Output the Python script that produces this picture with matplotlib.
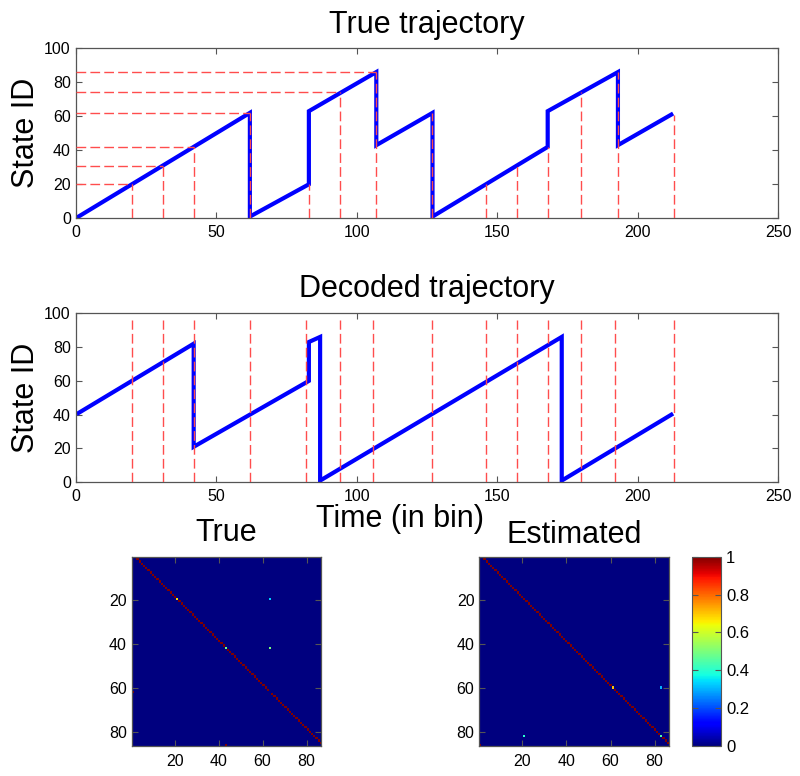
import numpy as np
import matplotlib
matplotlib.use("Agg")
import matplotlib.pyplot as plt

plt.rcParams['font.family'] = ['Liberation Sans', 'DejaVu Sans']

# true trajectory (vertices of the piecewise path)
true_t = [1, 62, 62, 83, 83, 107, 107, 127, 127, 168, 168, 193, 193, 212]
true_s = [1, 62, 1, 20, 63, 86, 43, 62, 1, 42, 63, 86, 43, 61]

# decoded trajectory
dec_t = [1, 42, 42, 83, 83, 87, 87, 173, 173, 212]
dec_s = [41, 82, 21, 60, 83, 86, 1, 86, 1, 40]

# landmark times / states (red dashed guides)
true_mark_t = [20, 31, 42, 62, 83, 94, 107, 127, 146, 157, 168, 180, 193, 213]
true_mark_s = [20, 31, 42, 62, 20, 74, 86, 62, 20, 31, 42, 74, 86, 61]
hline_s = [20, 31, 42, 62, 74, 86]
hline_end = [20, 31, 42, 62, 94, 107]
dec_mark_t = [20, 31, 42, 62, 82, 94, 106, 127, 146, 157, 168, 180, 192, 213]

# transition matrices: chain i -> i+1, with these rows replaced
n_states = 86
true_rows = [20, 20, 42, 42, 62, 86]
true_cols = [21, 63, 43, 63, 1, 43]
true_vals = [0.67, 0.33, 0.5, 0.5, 1.0, 1.0]
est_rows = [60, 60, 82, 82, 86]
est_cols = [61, 83, 21, 83, 1]
est_vals = [0.7, 0.3, 0.4, 0.45, 1.0]

cbar_ticks = [0, 0.2, 0.4, 0.6, 0.8, 1]
cbar_labels = ['0', '0.2', '0.4', '0.6', '0.8', '1']

BLUE = '#0000ff'
RED = '#ff4d4d'
GRAY = '#555555'
DASH = (0, (7, 3))


def build_matrix(rows, cols, vals):
    m = np.zeros((n_states, n_states))
    for i in range(n_states - 1):
        m[i, i + 1] = 1.0
    for r in set(rows):
        m[r - 1, :] = 0.0
    for r, c, v in zip(rows, cols, vals):
        m[r - 1, c - 1] = v
    return m


def style_axes(ax, size=11.5):
    for sp in ax.spines.values():
        sp.set_color(GRAY)
        sp.set_linewidth(0.9)
    ax.tick_params(direction='in', top=True, right=True, length=4,
                   color=GRAY, labelsize=size, labelcolor='black')


fig = plt.figure(figsize=(8, 7.76), dpi=100)

# top: true trajectory
ax1 = fig.add_axes([0.0946, 0.7187, 0.878, 0.2191])
ax1.plot(true_t, true_s, color=BLUE, lw=3, solid_joinstyle='miter', zorder=2)
ax1.vlines(true_mark_t, 0, true_mark_s, colors=RED, linestyles=DASH, lw=1, zorder=3)
ax1.hlines(hline_s, 0, hline_end, colors=RED, linestyles=DASH, lw=1, zorder=3)
ax1.set_xlim(0, 250)
ax1.set_ylim(0, 100)
ax1.set_xticks(range(0, 251, 50))
ax1.set_yticks(range(0, 101, 20))
ax1.set_title('True trajectory', fontsize=22, pad=11)
ax1.set_ylabel('State ID', fontsize=22)
ax1.yaxis.set_label_coords(-0.05, 0.5)
style_axes(ax1)
ax1.tick_params(axis='x', pad=5)

# middle: decoded trajectory
ax2 = fig.add_axes([0.0946, 0.3785, 0.878, 0.2178])
ax2.plot(dec_t, dec_s, color=BLUE, lw=3, solid_joinstyle='miter', zorder=2)
ax2.vlines(dec_mark_t, 0, 96, colors=RED, linestyles=DASH, lw=1, zorder=3)
ax2.set_xlim(0, 250)
ax2.set_ylim(0, 100)
ax2.set_xticks(range(0, 251, 50))
ax2.set_yticks(range(0, 101, 20))
ax2.set_title('Decoded trajectory', fontsize=22, pad=12)
ax2.set_ylabel('State ID', fontsize=22)
ax2.yaxis.set_label_coords(-0.05, 0.5)
ax2.set_xlabel('Time (in bin)', fontsize=22)
ax2.xaxis.set_label_coords(0.462, -0.13)
style_axes(ax2)
ax2.tick_params(axis='x', pad=5)

# bottom: transition matrices
true_m = build_matrix(true_rows, true_cols, true_vals)
est_m = build_matrix(est_rows, est_cols, est_vals)
ext = (0.5, n_states + 0.5, n_states + 0.5, 0.5)

ax3 = fig.add_axes([0.1646, 0.0387, 0.2365, 0.2439])
ax3.imshow(true_m, cmap='jet', vmin=0, vmax=1, extent=ext,
           interpolation='nearest', aspect='auto')
ax3.set_title('True', fontsize=22, pad=11.5)

ax4 = fig.add_axes([0.5991, 0.0387, 0.2371, 0.2439])
im = ax4.imshow(est_m, cmap='jet', vmin=0, vmax=1, extent=ext,
                interpolation='nearest', aspect='auto')
ax4.set_title('Estimated', fontsize=22, pad=9.6)

for ax in (ax3, ax4):
    ax.set_xticks([20, 40, 60, 80])
    ax.set_yticks([20, 40, 60, 80])
    style_axes(ax)
    ax.tick_params(axis='x', pad=6)

cax = fig.add_axes([0.8654, 0.0387, 0.0359, 0.2439])
cb = fig.colorbar(im, cax=cax)
cb.set_ticks(cbar_ticks)
cb.set_ticklabels(cbar_labels)
cb.outline.set_edgecolor(GRAY)
cax.tick_params(direction='in', left=True, right=True, length=4,
                color=GRAY, labelsize=12)

fig.savefig('out.png', dpi=100)
